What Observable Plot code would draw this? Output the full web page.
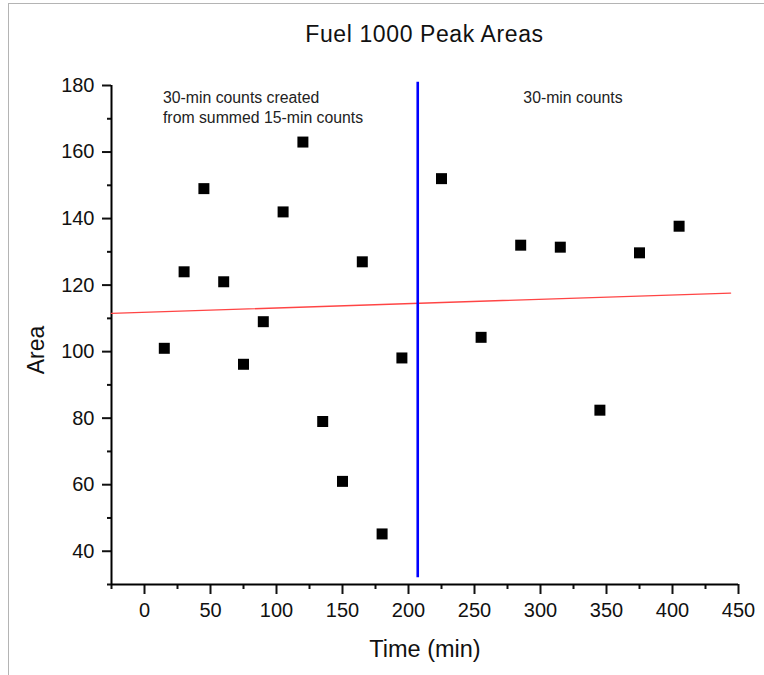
<!DOCTYPE html>
<html>
<head>
<meta charset="utf-8">
<script src="https://cdn.jsdelivr.net/npm/d3@7"></script>
<script src="https://cdn.jsdelivr.net/npm/@observablehq/plot@0.6"></script>
<style>
  body { margin: 0; background: #fff; font-family: "Liberation Sans", Arial, sans-serif; }
  #wrap { position: relative; width: 764px; height: 675px; overflow: hidden; }
  #frame { position: absolute; left: 8px; top: 3px; right: -5px; bottom: -5px;
           border-left: 1px solid #b4b4b4; border-top: 1px solid #b4b4b4; pointer-events: none; }
  #title { height: 50px; width: 764px; box-sizing: border-box; padding: 23px 26px 0 111px;
           text-align: center; font-size: 23px; line-height: 23px; color: #111; letter-spacing: 0.6px; }
</style>
</head>
<body>
<div id="wrap">
  <div id="frame"></div>
  <div id="title"></div>
  <div id="chart"></div>
</div>
<script>
const titleText = "Fuel 1000 Peak Areas";
const xLabel = "Time (min)";
const yLabel = "Area";

const time = [15, 30, 45, 60, 75, 90, 105, 120, 135, 150, 165, 180, 195, 225, 255, 285, 315, 345, 375, 405];
const area = [101, 124, 149, 121, 96.2, 109, 142, 163, 79, 61, 127, 45.2, 98.1, 152, 104.3, 132, 131.4, 82.4, 129.7, 137.7];

const fitTime = [-25, 444];
const fitArea = [111.5, 117.6];

const dividerTime = [207];
const dividerFrom = [32];
const dividerTo = [181];

const annoTime = [14, 287];
const annoArea = [179, 179];
const annoText = ["30-min counts created\nfrom summed 15-min counts", "30-min counts"];

const xMajorTicks = [0, 50, 100, 150, 200, 250, 300, 350, 400, 450];
const xMinorTicks = [-25, 25, 75, 125, 175, 225, 275, 325, 375, 425];
const yMajorTicks = [40, 60, 80, 100, 120, 140, 160, 180];
const yMinorTicks = [30, 50, 70, 90, 110, 130, 150, 170];

document.getElementById("title").textContent = titleText;

const points = time.map((t, i) => ({t, a: area[i]}));
const fit = fitTime.map((t, i) => ({t, a: fitArea[i]}));
const divider = dividerTime.map((t, i) => ({t, y1: dividerFrom[i], y2: dividerTo[i]}));
const annos = annoTime.map((t, i) => ({t, a: annoArea[i], s: annoText[i]}));

const chart = Plot.plot({
  width: 764,
  height: 625,
  marginLeft: 111,
  marginRight: 26,
  marginTop: 35,
  marginBottom: 91,
  style: { fontFamily: "'Liberation Sans', Arial, sans-serif", color: "#111", background: "transparent" },
  x: { domain: [-25, 450] },
  y: { domain: [30, 180] },
  marks: [
    Plot.axisX({ ticks: xMinorTicks, tickSize: 5, strokeWidth: 2, tickFormat: () => "", label: null }),
    Plot.axisX({ ticks: xMajorTicks, tickSize: 10, tickPadding: 8, strokeWidth: 2, fontSize: 20, label: null }),
    Plot.axisY({ ticks: yMinorTicks, tickSize: 4, strokeWidth: 2, tickFormat: () => "", label: null }),
    Plot.axisY({ ticks: yMajorTicks, tickSize: 9, tickPadding: 8, strokeWidth: 2, fontSize: 20, label: null }),
    Plot.ruleY([30], { stroke: "#000", strokeWidth: 2 }),
    Plot.ruleX([-25], { stroke: "#000", strokeWidth: 2 }),
    Plot.line(fit, { x: "t", y: "a", stroke: "#ff4545", strokeWidth: 1.4 }),
    Plot.ruleX(divider, { x: "t", y1: "y1", y2: "y2", stroke: "#0000ff", strokeWidth: 2.6 }),
    Plot.dot(points, { x: "t", y: "a", symbol: "square", r: 6.2, fill: "#000", stroke: "none" }),
    Plot.text(annos, { x: "t", y: "a", text: "s", textAnchor: "start", lineAnchor: "top",
                       lineHeight: 1.27, fontSize: 15.8, fill: "#222" }),
    Plot.text([xLabel], { frameAnchor: "bottom", lineAnchor: "bottom", dy: 72, fontSize: 23.5, fill: "#111" }),
    Plot.text([yLabel], { frameAnchor: "left", rotate: -90, dx: -75, dy: 15, lineAnchor: "middle",
                          textAnchor: "middle", fontSize: 23, fill: "#111" })
  ]
});
document.getElementById("chart").appendChild(chart);
</script>
</body>
</html>
